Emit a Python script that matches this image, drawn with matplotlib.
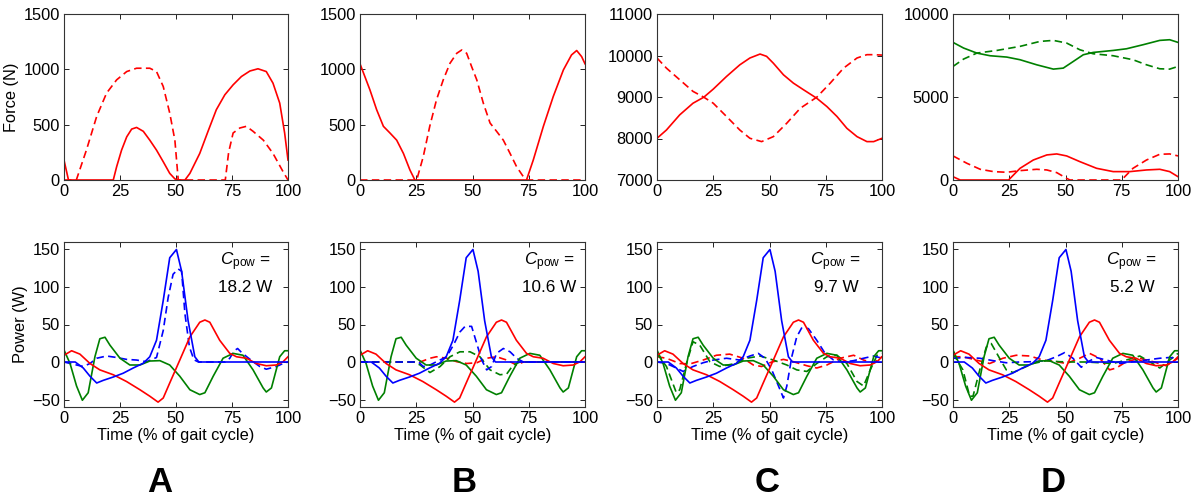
import matplotlib
matplotlib.use("Agg")
import matplotlib.pyplot as plt

plt.rcParams['font.family'] = ['Liberation Sans', 'DejaVu Sans']
plt.rcParams['font.size'] = 11.8
plt.rcParams['mathtext.fontset'] = 'custom'
plt.rcParams['mathtext.rm'] = 'Liberation Sans'
plt.rcParams['mathtext.it'] = 'Liberation Sans:italic'

RED = (1, 0, 0)
GREEN = (0, 0.5, 0)
BLUE = (0, 0, 1)

# ---------------- Force data (top row) ----------------
fa_s_x = [0, 2, 22, 23.5, 25.7, 28, 30.2, 32.4, 35.4, 38.3, 41.3, 44.3, 47.2, 49.5, 51, 54, 56.2, 60.6,
          64.3, 68, 71.8, 75.5, 79.2, 83, 86.6, 90.3, 93.3, 96.3, 98.5, 100]
fa_s_y = [180, 0, 0, 120, 270, 390, 460, 475, 440, 360, 270, 165, 60, 10, 0, 0, 60, 240,
          440, 635, 770, 860, 935, 985, 1005, 980, 875, 695, 425, 180]
fa_d_x = [0, 5.5, 10, 14.6, 19, 23.5, 28, 32.4, 38.3, 41.3, 44.3, 47.2, 49.5, 51, 72, 73.5, 75.5,
          78.5, 81.4, 84.4, 89, 93.3, 97.8, 100]
fa_d_y = [0, 0, 270, 575, 785, 905, 980, 1010, 1010, 980, 845, 605, 360, 0, 0, 250, 425,
          470, 485, 440, 360, 240, 75, 0]

fb_s_x = [0, 4.4, 7.4, 10.4, 13.3, 16.3, 19.3, 22.2, 24.4, 74, 77, 81.5, 85.9, 90.4, 94, 96.3, 98.5, 100]
fb_s_y = [1050, 815, 635, 485, 425, 360, 240, 90, 0, 0, 180, 485, 755, 995, 1130, 1170, 1115, 1050]
fb_d_x = [0, 25.2, 28.1, 31, 34, 37, 40, 43, 45.2, 47.4, 49.6, 51.9, 54.8, 57.8, 60.7, 63.7, 66.7,
          69.6, 72.6, 74, 100]
fb_d_y = [0, 0, 210, 485, 725, 905, 1055, 1145, 1175, 1145, 1025, 905, 695, 515, 440, 360, 240,
          120, 30, 0, 0]

fc_s_x = [0, 4.2, 10.1, 16, 20.8, 25, 30.9, 36.8, 41.3, 45.8, 48.7, 51.7, 56.2, 60.6, 65.1, 71, 75.5,
          80, 84.4, 88.9, 93.3, 96.3, 100]
fc_s_y = [8005, 8205, 8570, 8850, 8995, 9190, 9495, 9775, 9940, 10035, 9980, 9815, 9535, 9335, 9175,
          8970, 8770, 8530, 8245, 8045, 7925, 7925, 8005]
fc_d_x = [0, 4.2, 10.1, 16, 20.8, 25, 30.9, 36.8, 41.3, 46.5, 51.7, 57.7, 63.7, 71, 77, 82.9, 88.9,
          93.3, 96.3, 100]
fc_d_y = [9940, 9695, 9415, 9135, 8995, 8850, 8530, 8205, 8005, 7925, 8045, 8370, 8730, 8995, 9335,
          9695, 9940, 10020, 10020, 10010]

fd_gs_x = [0, 4.7, 10.6, 16.5, 23.9, 29.8, 37.2, 44.6, 49, 53.5, 57.9, 62.3, 71.2, 77.1, 84.5, 91.9, 96.3, 100]
fd_gs_y = [8290, 7950, 7645, 7485, 7405, 7245, 6940, 6680, 6740, 7145, 7545, 7685, 7805, 7905, 8150,
           8410, 8450, 8290]
fd_gd_x = [0, 4.7, 10.6, 19.5, 29.8, 38.7, 44.6, 50.5, 56.4, 62.3, 71.2, 80, 86, 91.9, 96.3, 100]
fd_gd_y = [6840, 7285, 7645, 7805, 8050, 8350, 8410, 8250, 7845, 7605, 7485, 7245, 6940, 6700, 6680, 6840]
fd_rs_x = [0, 3.2, 24.7, 29.8, 35.7, 41.7, 46.1, 50.5, 56.4, 63.8, 71.2, 78.6, 86, 91.9, 96.3, 100]
fd_rs_y = [200, 0, 0, 705, 1205, 1510, 1570, 1450, 1105, 705, 505, 505, 605, 645, 505, 200]
fd_rd_x = [0, 6.2, 12.1, 18, 23.9, 29.8, 37.2, 41.7, 46.1, 50.5, 52, 74.9, 80, 86, 91.9, 96.3, 100]
fd_rd_y = [1450, 1005, 645, 505, 465, 565, 645, 605, 445, 100, 0, 0, 705, 1205, 1550, 1570, 1450]

# ---------------- Power data (bottom row) ----------------
p_blue_x = [0, 5, 8.6, 11.6, 14.6, 17.5, 22, 26.4, 30.9, 35.4, 38.3, 41.3, 44.3, 47.2, 50.2, 52.5,
            55.4, 58.4, 60.2, 100]
p_blue_y = [0, 0, -8, -19, -28, -24.5, -20, -15, -8, -1.6, 7, 29, 82, 139, 150, 121, 55, 7, 0, 0]
p_red_x = [0, 3.4, 7.1, 11.6, 16, 22, 27.9, 33.9, 38.3, 42, 44.3, 47.2, 51.7, 56.2, 60.6, 62.9, 65.1,
           69.5, 74, 77, 81.4, 85.9, 90.3, 94.8, 97.8, 100]
p_red_y = [9, 15, 10.5, -2, -10.5, -17, -26, -37, -45.6, -53.5, -48, -28, 2.6, 33.5, 53, 56, 53,
           29, 11.5, 7, 5, -2, -5, -4, 0.4, 7]
p_green_x = [0, 2.7, 5.6, 8.2, 10.8, 13.8, 16, 18.3, 20.5, 25, 29.4, 33.9, 38.3, 42.8, 47.2, 51.7,
             56.2, 60.6, 62.9, 66.6, 71, 75.5, 79.9, 84.4, 88.9, 90.3, 92.6, 96.3, 98.5, 100]
p_green_y = [16, -2, -32, -51, -41, 7, 31, 33, 22.5, 5, -4, -4, 1.3, 1.8, -4, -19, -37, -43.4, -41,
             -19, 5, 11.5, 9, -10.5, -34.6, -40, -34.6, 7, 15, 15]

pa_bd_x = [0, 5.6, 8.6, 11.6, 14.6, 19, 23.5, 27.9, 32.4, 36.8, 41.3, 44.3, 46.5, 48.7, 51, 52.5, 54,
           56, 58, 60, 72, 74, 76, 77.5, 79.5, 82, 84.4, 87.4, 90.3, 94.8, 97.8, 100]
pa_bd_y = [0, -4, -6, -2, 5, 8, 6, 3.5, 2.6, 0.4, 6, 42, 86, 117, 124, 121, 64, 20, 3, 0, 0, 5, 15, 18,
           12, 6, 0.4, -6, -9.6, -6, -2, 0]

pb_bd_x = [0, 26, 28.1, 31.1, 34, 38.5, 41.5, 44.4, 46.7, 49.6, 51.9, 54.1, 56.3, 58.5, 60.7, 63.7,
           66.7, 69.6, 72.6, 100]
pb_bd_y = [0, 0, -6, -4, 0.4, 7, 22.5, 40, 47.5, 47.5, 24.6, 2.6, -10.5, -6, 11.5, 18, 13.6, 5, 0, 0]
pb_gd_x = [0, 24, 26.7, 31.1, 35.6, 40, 44.4, 48.9, 53.3, 57.8, 62.2, 65.2, 68.1, 71.1, 100]
pb_gd_y = [0, 0, -4, -14, -6, 7, 13.6, 13.6, 7, -10.5, -17, -16, -4, 0, 0]
pb_rd_x = [0, 26.7, 31.1, 34, 38.5, 43, 47.4, 51.9, 56.3, 60.7, 65.2, 69.6, 72.6, 100]
pb_rd_y = [0, 0, 5, 7, 5, 0.4, -2, -1, 5, 7, 2.6, -4, 0, 0]

pc_bd_x = [0, 4.2, 8.6, 11.6, 16, 20.5, 25, 30.9, 36.8, 41.3, 45, 48, 51, 54, 56.2, 57.7, 59.9, 62.1,
           64.4, 67.3, 71, 74.7, 78.5, 82.9, 87.4, 91.8, 96.3, 100]
pc_bd_y = [0, -2, -8, -12.6, -6, -1, 2.6, 5, 2.6, 8, 11.5, 5, -10.5, -32, -48, -32, 7, 33.5, 46, 44.5,
           29, 11.5, 2.6, 0, 1.8, 5, 8, 5]
pc_gd_x = [0, 4.2, 8.6, 10.1, 13.1, 16, 19, 23.5, 27.9, 33.9, 39.8, 45.8, 51.7, 57.7, 62.1, 66.6, 71,
           75.5, 80, 84.4, 88.9, 91.8, 94.8, 97.8, 100]
pc_gd_y = [11.5, -6, -41, -37, -2, 27, 22.5, 0.4, -6, -2.6, 5, 8, 2.6, -4, -10.5, -12.6, -2, 7, 9, -2,
           -26, -32, -10.5, 9, 11.5]
pc_rd_x = [0, 4.2, 10.1, 14.6, 20.5, 26.4, 32.3, 38.3, 42.8, 46.5, 51, 56.2, 60.6, 66.6, 71, 75.5,
           81.4, 87.4, 91.8, 96.3, 100]
pc_rd_y = [7, 5, -2, -2.6, 2.6, 9, 10.5, 5, -4, -6, 0, 3.5, 0.4, -5, -8, -4, 5, 9, 2.6, -1, 7]

pd_bd_x = [0, 5.9, 11.9, 17.8, 23.7, 29.6, 35.6, 41.5, 45.9, 49.6, 53.3, 57, 60, 63.7, 68.1, 74.1,
           80, 85.9, 91.9, 96.3, 100]
pd_bd_y = [5, 6, 5, 1.8, -1, 0, 0.4, 1.8, 7, 12.5, 5, -7, 0.4, 6, 2.6, -2, 0.4, 2.6, 5, 6, 5]
pd_gd_x = [0, 4.4, 7.4, 8.9, 11.9, 14.8, 17, 20.7, 23.7, 26.7, 31.1, 35.6, 41.5, 47.4, 53.3, 59.3,
           65.2, 71.1, 77, 83, 87.4, 91.9, 96.3, 100]
pd_gd_y = [11.5, -10.5, -45.6, -45.6, -10.5, 20, 24.6, 5, -10.5, -14, -8, -2, 1.8, 0.4, 0, 0, -1, -2,
           2.6, 8, 0.4, -8, 2.6, 11.5]
pd_rd_x = [0, 4.4, 10.4, 16.3, 22.2, 28.1, 34.1, 40, 45.9, 50.4, 56.3, 60.7, 65.2, 69.6, 72.6, 77,
           83, 88.9, 94.8, 100]
pd_rd_y = [7, 7, 2.6, -2, 5, 9, 8, 2.6, 0.4, -2, 5, 11.5, 5, -10.5, -8, 0.4, 5, 0.4, -5, 5]

cpow_values = ["18.2 W", "10.6 W", "9.7 W", "5.2 W"]
panel_letters = ["A", "B", "C", "D"]
x_ticks = [0, 25, 50, 75, 100]
power_ticks = [-50, 0, 50, 100, 150]

# ---------------- Layout ----------------
W, H = 1200, 503
fig = plt.figure(figsize=(W / 100, H / 100), dpi=100)
lefts = [64, 360, 657, 953]
widths = [224, 225, 225, 225]
top_row = (14, 180)
bot_row = (242, 407)

def make_ax(left, width, top, bottom):
    ax = fig.add_axes([left / W, (H - bottom) / H, width / W, (bottom - top) / H])
    ax.tick_params(direction='in', top=True, right=True, length=3.5, width=0.7,
                   colors='#222222', labelcolor='black', pad=3)
    for s in ax.spines.values():
        s.set_linewidth(0.8)
        s.set_color('#333333')
    ax.set_xlim(0, 100)
    ax.set_xticks(x_ticks)
    return ax

LW = 1.2
DASH = (4.5, 2.6)

def dline(ax, x, y, c):
    ax.plot(x, y, color=c, lw=LW, linestyle=(0, DASH))

def sline(ax, x, y, c):
    ax.plot(x, y, color=c, lw=LW)

# Top row
top_axes = [make_ax(lefts[i], widths[i], *top_row) for i in range(4)]
ax = top_axes[0]
dline(ax, fa_d_x, fa_d_y, RED)
sline(ax, fa_s_x, fa_s_y, RED)
ax.set_ylim(0, 1500); ax.set_yticks([0, 500, 1000, 1500])
ax.set_ylabel("Force (N)", labelpad=3)

ax = top_axes[1]
dline(ax, fb_d_x, fb_d_y, RED)
sline(ax, fb_s_x, fb_s_y, RED)
ax.set_ylim(0, 1500); ax.set_yticks([0, 500, 1000, 1500])

ax = top_axes[2]
dline(ax, fc_d_x, fc_d_y, RED)
sline(ax, fc_s_x, fc_s_y, RED)
ax.set_ylim(7000, 11000); ax.set_yticks([7000, 8000, 9000, 10000, 11000])

ax = top_axes[3]
dline(ax, fd_gd_x, fd_gd_y, GREEN)
sline(ax, fd_gs_x, fd_gs_y, GREEN)
dline(ax, fd_rd_x, fd_rd_y, RED)
sline(ax, fd_rs_x, fd_rs_y, RED)
ax.set_ylim(0, 10000); ax.set_yticks([0, 5000, 10000])

# Bottom row
dashed_sets = [
    [(pa_bd_x, pa_bd_y, BLUE)],
    [(pb_rd_x, pb_rd_y, RED), (pb_gd_x, pb_gd_y, GREEN), (pb_bd_x, pb_bd_y, BLUE)],
    [(pc_rd_x, pc_rd_y, RED), (pc_gd_x, pc_gd_y, GREEN), (pc_bd_x, pc_bd_y, BLUE)],
    [(pd_rd_x, pd_rd_y, RED), (pd_gd_x, pd_gd_y, GREEN), (pd_bd_x, pd_bd_y, BLUE)],
]
cpow_x = [0.81, 0.84, 0.795, 0.795]
for i in range(4):
    ax = make_ax(lefts[i], widths[i], *bot_row)
    for x, y, c in dashed_sets[i]:
        dline(ax, x, y, c)
    sline(ax, p_green_x, p_green_y, GREEN)
    sline(ax, p_red_x, p_red_y, RED)
    sline(ax, p_blue_x, p_blue_y, BLUE)
    ax.set_ylim(-60, 160)
    ax.set_yticks(power_ticks)
    ax.set_xlabel("Time (% of gait cycle)", labelpad=1)
    if i == 0:
        ax.set_ylabel("Power (W)", labelpad=3)
    ax.text(cpow_x[i], 0.879, r"$C_{\mathrm{pow}}$ =", transform=ax.transAxes,
            ha='center', va='center', fontsize=12.3)
    ax.text(cpow_x[i], 0.727, cpow_values[i], transform=ax.transAxes,
            ha='center', va='center', fontsize=12.3)

letter_x = [160, 464, 767, 1053]
for lx, lt in zip(letter_x, panel_letters):
    fig.text(lx / W, (H - 482) / H, lt, ha='center', va='center',
             fontsize=25, fontweight='bold')

fig.savefig("out.png", dpi=100)
